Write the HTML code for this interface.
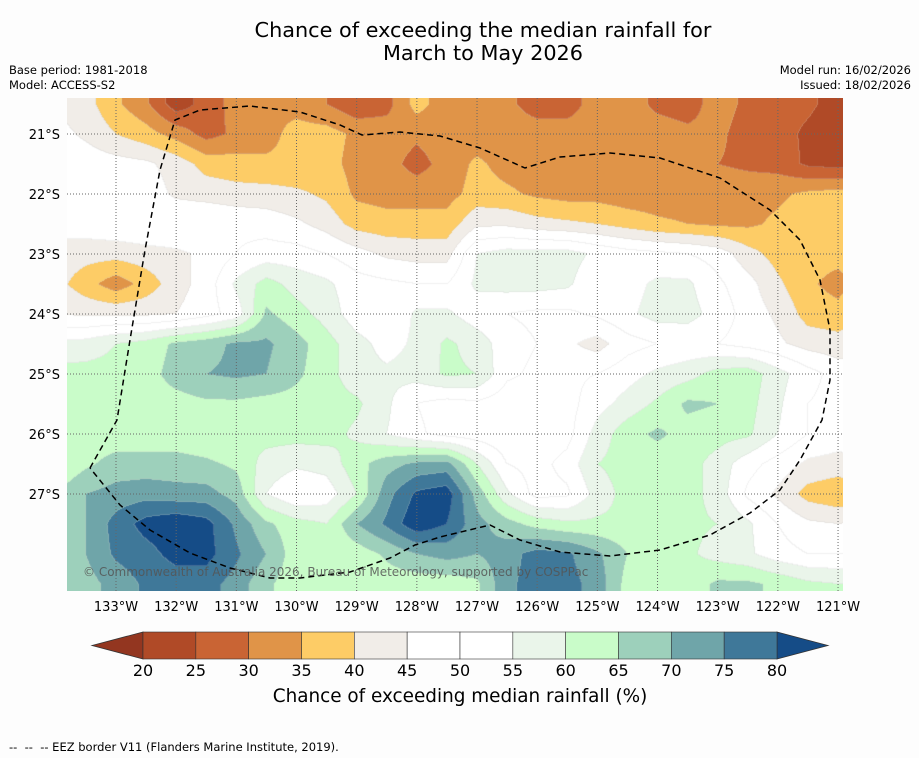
<!DOCTYPE html>
<html><head><meta charset="utf-8">
<style>
html,body{margin:0;padding:0;background:#fdfdfd;}
body{width:919px;height:758px;position:relative;overflow:hidden;font-family:"DejaVu Sans","Liberation Sans",sans-serif;color:#000;}
.t{position:absolute;white-space:nowrap;}
</style></head>
<body>
<div class="t" style="left:0;width:966px;top:19px;text-align:center;font-size:20.8px;line-height:23px;">Chance of exceeding the median rainfall for<br>March to May 2026</div>
<div class="t" style="left:9px;top:63px;font-size:11.5px;line-height:15px;">Base period: 1981-2018<br>Model: ACCESS-S2</div>
<div class="t" style="right:8px;top:63px;font-size:11.5px;line-height:15px;text-align:right;">Model run: 16/02/2026<br>Issued: 18/02/2026</div>
<canvas id="map" width="776" height="493" style="position:absolute;left:67px;top:98px;"></canvas>
<svg id="ov" width="919" height="758" style="position:absolute;left:0;top:0;"></svg>
<div class="t" style="left:83px;top:565px;font-size:12px;color:#555;opacity:0.85;">© Commonwealth of Australia 2026, Bureau of Meteorology, supported by COSPPac</div>
<div class="t" style="left:0;width:920px;top:686px;text-align:center;font-size:18.4px;">Chance of exceeding median rainfall (%)</div>
<div class="t" style="left:9px;top:740px;font-size:11.5px;">--&nbsp; --&nbsp; -- EEZ border V11 (Flanders Marine Institute, 2019).</div>
<script>
// grid: lon 134W -> 120.5W step 0.5 ; lat 20S -> 29S step 0.5
const lons=[134,133.5,133,132.5,132,131.5,131,130.5,130,129.5,129,128.5,128,127.5,127,126.5,126,125.5,125,124.5,124,123.5,123,122.5,122,121.5,121,120.5];
const lats=[20,20.5,21,21.5,22,22.5,23,23.5,24,24.5,25,25.5,26,26.5,27,27.5,28,28.5,29];
const r200=[44,42,36,31,22,27,32,34,33,30,26,28,37,32,32,31,28,28,32,32,29,28,32,29,27,26,23,22];
const r205=[44,42,36,31,22,27,32,34,33,30,26,28,37,32,32,31,28,28,32,32,29,28,32,29,27,26,23,22];
const r210=[47,44,40,37,33,28,31,33,37,37,34,33,31,33,32,32,32,32,32,32,32,31,31,28,27,24,22,22];
const r215=[48,48,47,46,43,38,37,36,36,37,33,32,28,32,36,33,32,32,32,32,32,31,30,29,28,24,23,24];
const r220=[48,48,48,48,44,43,42,42,41,39,34,33,33,33,37,36,34,33,33,32,32,32,33,33,34,36,37,37];
const r225=[47,48,49,50,50,50,49,48,46,43,38,37,37,37,44,44,42,41,40,38,36,35,34,34,36,38,38,38];
const r230=[43,42,42,43,44,46,50,52,52,50,47,44,43,43,55,57,57,57,54,52,51,50,48,42,38,37,37,38];
const r235=[42,37,32,37,43,47,56,62,58,56,52,51,50,50,56,57,57,56,51,53,56,56,51,47,41,36,33,38];
const r240=[45,44,44,44,45,48,52,66,62,58,52,50,56,56,52,50,49,49,51,54,57,57,53,48,44,38,37,40];
const r245=[56,57,60,62,66,68,71,71,67,62,57,53,56,61,58,52,50,46,43,48,50,51,50,48,46,43,42,44];
const r250=[62,62,62,63,67,70,71,70,66,62,57,56,57,61,60,51,49,49,50,53,56,58,62,63,57,52,48,47];
const r255=[62,63,63,63,63,64,64,63,63,62,61,56,50,48,49,47,47,48,53,57,61,66,65,62,56,50,48,47];
const r260=[62,62,62,62,62,61,60,62,62,62,59,55,51,48,47,46,45,48,57,63,66,63,62,61,55,50,48,48];
const r265=[60,64,67,67,67,66,64,58,56,57,63,68,71,72,60,50,48,52,60,62,62,62,58,52,48,44,43,44];
const r270=[65,70,72,73,72,72,68,55,50,52,60,73,81,83,68,56,48,49,57,62,62,62,58,49,44,38,36,38];
const r275=[63,70,77,82,84,82,74,66,62,60,70,76,84,80,72,67,63,61,61,61,62,61,60,56,50,46,45,46];
const r280=[66,70,76,78,82,82,76,70,62,60,62,66,70,72,70,73,77,76,71,65,62,61,58,56,52,50,50,50];
const r285=[66,68,72,76,77,77,73,66,62,60,60,62,62,62,64,74,77,77,73,63,61,62,66,66,64,61,60,60];
const r290=[66,68,72,76,77,77,73,66,62,60,60,62,62,62,64,74,77,77,73,63,61,62,66,66,64,61,60,60];
const grid=[r200,r205,r210,r215,r220,r225,r230,r235,r240,r245,r250,r255,r260,r265,r270,r275,r280,r285,r290];
const levels=[20,25,30,35,40,45,50,55,60,65,70,75,80];
const binColors=['#933620','#b04a27','#c96434','#e09448','#fdcc66','#f1ede8','#ffffff','#ffffff','#eaf5ea','#c9fcc9','#9dd0bb','#6fa5a9','#3f7899','#154c87'];
const lonTicks=[133,132,131,130,129,128,127,126,125,124,123,122,121];
const latTicks=[21,22,23,24,25,26,27];

const X0=67,Y0=98,W=776,H=493;
function xOfLon(l){return 116+(133-l)*60.17;}
function yOfLat(a){return 134+(a-21)*60;}
function lonOfX(x){return 133-(x-116)/60.17;}
function latOfY(y){return 21+(y-134)/60;}
function hex(c){return [parseInt(c.substr(1,2),16),parseInt(c.substr(3,2),16),parseInt(c.substr(5,2),16)];}
function val(lon,lat){
  let fi=(lons[0]-lon)/0.5, fj=(lat-lats[0])/0.5;
  fi=Math.max(0,Math.min(lons.length-1.0001,fi)); fj=Math.max(0,Math.min(lats.length-1.0001,fj));
  const i=Math.floor(fi),j=Math.floor(fj),u=fi-i,v=fj-j;
  return (grid[j][i]*(1-u)+grid[j][i+1]*u)*(1-v)+(grid[j+1][i]*(1-u)+grid[j+1][i+1]*u)*v;
}
function bin(v){let b=0;while(b<levels.length&&v>=levels[b])b++;return b;}
const cv=document.getElementById('map'),ctx=cv.getContext('2d');
const img=ctx.createImageData(W,H);
const bins=new Int8Array(W*H);
for(let y=0;y<H;y++)for(let x=0;x<W;x++){bins[y*W+x]=bin(val(lonOfX(x+X0+0.5),latOfY(y+Y0+0.5)));}
const rgb=binColors.map(hex);
for(let y=0;y<H;y++)for(let x=0;x<W;x++){
  const b=bins[y*W+x];let c=rgb[b];
  let edge=(x<W-1&&bins[y*W+x+1]!==b)||(y<H-1&&bins[(y+1)*W+x]!==b);
  const k=(y*W+x)*4;
  if(edge){img.data[k]=c[0]*0.75+200*0.25;img.data[k+1]=c[1]*0.75+200*0.25;img.data[k+2]=c[2]*0.75+200*0.25;}
  else{img.data[k]=c[0];img.data[k+1]=c[1];img.data[k+2]=c[2];}
  img.data[k+3]=255;
}
ctx.putImageData(img,0,0);

const NS='http://www.w3.org/2000/svg',ov=document.getElementById('ov');
function mk(tag,attrs){const e=document.createElementNS(NS,tag);for(const a in attrs)e.setAttribute(a,attrs[a]);ov.appendChild(e);return e;}
lonTicks.forEach(l=>{
  const x=xOfLon(l);
  const g=mk('line',{x1:x,x2:x,y1:Y0,y2:Y0+H,stroke:'#666','stroke-width':1,'stroke-dasharray':'1 2'});
  
  
  const t=mk('text',{x:x,y:611,'text-anchor':'middle','font-size':13,'font-family':'DejaVu Sans, Liberation Sans, sans-serif'});
  t.textContent=l+'°W';
  
  
});
latTicks.forEach(a=>{
  const y=yOfLat(a);
  const g=mk('line',{x1:X0,x2:X0+W,y1:y,y2:y,stroke:'#666','stroke-width':1,'stroke-dasharray':'1 2'});
  
  
  const t=mk('text',{x:60,y:y+5,'text-anchor':'end','font-size':13,'font-family':'DejaVu Sans, Liberation Sans, sans-serif'});
  t.textContent=a+'°S';
  
  
});
const eez=[[90,468],[117,420],[130,340],[145,250],[160,170],[175,120],[200,110],[250,106],[300,112],[340,125],[362,135],[400,132],[440,136],[480,148],[525,168],[560,157],[610,153],[660,158],[720,178],[770,210],[800,240],[820,280],[830,330],[830,380],[822,420],[800,460],[780,490],[750,513],[710,535],[660,550],[610,556],[560,552],[520,540],[490,525],[440,537],[415,545],[390,558],[350,572],[300,578],[270,578],[230,568],[190,553],[150,530],[120,505],[90,468]];
const p=mk('path',{d:'M'+eez.map(q=>q.join(',')).join(' L'),fill:'none',stroke:'#000','stroke-width':1.5,'stroke-dasharray':'6 4'});


// colorbar
const cbL=143,cbR=777,cbT=632,cbB=659,bw=(cbR-cbL)/12;
const lt=mk('polygon',{points:`92,${(cbT+cbB)/2} ${cbL},${cbT} ${cbL},${cbB}`,fill:binColors[0],stroke:'#333','stroke-width':0.8});


const rt=mk('polygon',{points:`828,${(cbT+cbB)/2} ${cbR},${cbT} ${cbR},${cbB}`,fill:binColors[13],stroke:'#333','stroke-width':0.8});


for(let i=0;i<12;i++){
  const r=mk('rect',{x:cbL+i*bw,y:cbT,width:bw,height:cbB-cbT,fill:binColors[i+1],stroke:'#333','stroke-width':0.6});
  
  
}
levels.forEach((lv,i)=>{
  const t=mk('text',{x:cbL+i*bw,y:676,'text-anchor':'middle','font-size':16,'font-family':'DejaVu Sans, Liberation Sans, sans-serif'});
  t.textContent=lv;
  
  
});
</script>
</body></html>
